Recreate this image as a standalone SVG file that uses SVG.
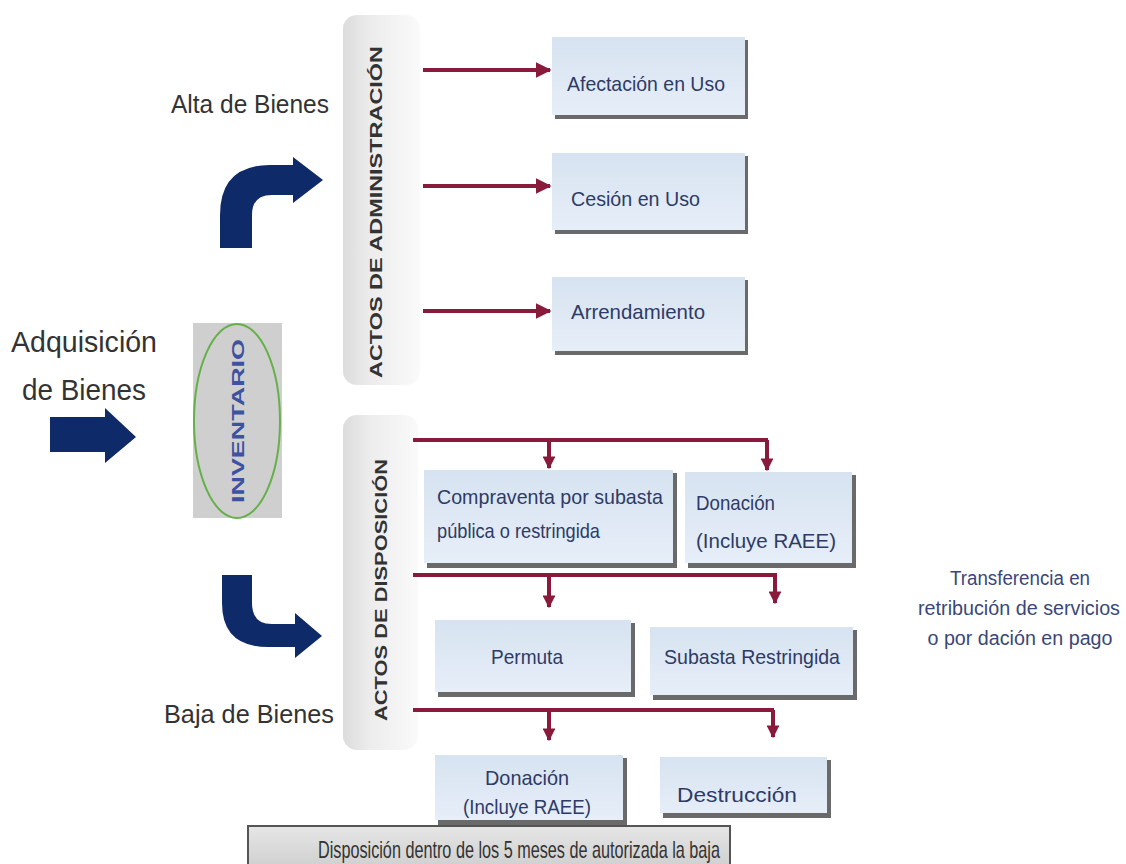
<svg xmlns="http://www.w3.org/2000/svg" width="1126" height="864" viewBox="0 0 1126 864">
<defs>
<linearGradient id="barG" x1="0" y1="0" x2="1" y2="0">
<stop offset="0" stop-color="#dcdcdc"/><stop offset="0.35" stop-color="#ececec"/><stop offset="1" stop-color="#fafafa"/>
</linearGradient>
<linearGradient id="boxG" x1="0" y1="0" x2="0" y2="1">
<stop offset="0" stop-color="#d7e3f1"/><stop offset="1" stop-color="#e6eef8"/>
</linearGradient>
<linearGradient id="botG" x1="0" y1="0" x2="0" y2="1">
<stop offset="0" stop-color="#e6e6e6"/><stop offset="1" stop-color="#cfcfcf"/>
</linearGradient>
<marker id="ah" viewBox="0 0 10 10" refX="9" refY="5" markerWidth="4" markerHeight="4" orient="auto" markerUnits="strokeWidth">
<path d="M0,0 L10,5 L0,10 Z" fill="#8a1a3c"/>
</marker>
<marker id="ahs" viewBox="0 0 10 10" refX="9" refY="5" markerWidth="3.2" markerHeight="3.2" orient="auto" markerUnits="strokeWidth">
<path d="M0,0 L10,5 L0,10 Z" fill="#8a1a3c"/>
</marker>
</defs>
<style>
.lbl{font-family:"Liberation Sans",Arial,sans-serif;fill:#333333}
.bx{font-family:"Liberation Sans",Arial,sans-serif;fill:#2e3b66;font-size:21px}
.tr{font-family:"Liberation Sans",Arial,sans-serif;fill:#3a4778;font-size:20px}
.shadow{fill:#6a6a6a}
.box{fill:url(#boxG)}
.bar{fill:url(#barG)}
.conn{stroke:#8a1a3c;stroke-width:4;fill:none}
.navy{fill:#0f2a68}
.vt{font-family:"Liberation Sans",Arial,sans-serif;fill:#333333;font-size:17px;font-weight:bold}
</style>

<g id="adquisicion">
<text class="lbl" x="84" y="352" font-size="30" text-anchor="middle" textLength="146" lengthAdjust="spacingAndGlyphs">Adquisición</text>
<text class="lbl" x="84" y="400" font-size="30" text-anchor="middle" textLength="124" lengthAdjust="spacingAndGlyphs">de Bienes</text>
<path class="navy" d="M50,417 L105,417 L105,408 L136,437 L105,463 L105,452 L50,452 Z"/>
</g>

<g id="inventario">
<rect x="193" y="323" width="89" height="195" fill="#cfcfcf"/>
<ellipse cx="237" cy="421" rx="43" ry="97" fill="none" stroke="#66b04a" stroke-width="2"/>
<text transform="translate(244,421) rotate(-90)" text-anchor="middle" font-family="Liberation Sans,Arial,sans-serif" font-size="17" font-weight="bold" fill="#3d52a0" textLength="164" lengthAdjust="spacingAndGlyphs">INVENTARIO</text>
</g>

<g id="alta">
<text class="lbl" x="250" y="113" font-size="25" text-anchor="middle" textLength="158" lengthAdjust="spacingAndGlyphs">Alta de Bienes</text>
<path class="navy" d="M220,248 L220,215 Q220,165 270,165 L293,165 L293,157 L323,180 L293,203 L293,195 L272,195 Q252,195 252,215 L252,248 Z"/>
</g>

<g id="baja">
<text class="lbl" x="249" y="723" font-size="25" text-anchor="middle" textLength="170" lengthAdjust="spacingAndGlyphs">Baja de Bienes</text>
<path class="navy" d="M222,575 L252,575 L252,603 Q252,624 272,624 L295,624 L295,613 L322,636 L295,658 L295,647 L268,647 Q222,647 222,603 Z"/>
</g>

<g id="actos-administracion">
<rect class="bar" x="343" y="15" width="77" height="370" rx="14"/>
<text class="vt" transform="translate(382,212) rotate(-90)" text-anchor="middle" textLength="332" lengthAdjust="spacingAndGlyphs">ACTOS DE ADMINISTRACIÓN</text>
</g>

<g id="actos-disposicion">
<rect class="bar" x="343" y="415" width="75" height="335" rx="14"/>
<text class="vt" transform="translate(387,590) rotate(-90)" text-anchor="middle" textLength="262" lengthAdjust="spacingAndGlyphs">ACTOS DE DISPOSICIÓN</text>
</g>

<g id="connectors">
<line class="conn" x1="423" y1="70" x2="550" y2="70" marker-end="url(#ah)"/>
<line class="conn" x1="423" y1="186" x2="550" y2="186" marker-end="url(#ah)"/>
<line class="conn" x1="423" y1="311" x2="550" y2="311" marker-end="url(#ah)"/>
<polyline class="conn" points="413,440 768,440"/>
<line class="conn" x1="549" y1="440" x2="549" y2="468" marker-end="url(#ahs)"/>
<line class="conn" x1="767" y1="440" x2="767" y2="470" marker-end="url(#ahs)"/>
<polyline class="conn" points="413,575 777,575"/>
<line class="conn" x1="549" y1="575" x2="549" y2="607" marker-end="url(#ahs)"/>
<line class="conn" x1="775" y1="575" x2="775" y2="603" marker-end="url(#ahs)"/>
<polyline class="conn" points="413,710 774,710"/>
<line class="conn" x1="549" y1="710" x2="549" y2="740" marker-end="url(#ahs)"/>
<line class="conn" x1="773" y1="710" x2="773" y2="737" marker-end="url(#ahs)"/>
</g>

<g id="afectacion">
<rect class="shadow" x="555" y="40" width="193" height="79"/>
<rect class="box" x="552" y="37" width="193" height="78"/>
<text class="bx" x="567" y="91" textLength="158" lengthAdjust="spacingAndGlyphs">Afectación en Uso</text>
</g>
<g id="cesion">
<rect class="shadow" x="555" y="156" width="193" height="78"/>
<rect class="box" x="552" y="153" width="193" height="77"/>
<text class="bx" x="571" y="206" textLength="129" lengthAdjust="spacingAndGlyphs">Cesión en  Uso</text>
</g>
<g id="arrendamiento">
<rect class="shadow" x="555" y="280" width="193" height="75"/>
<rect class="box" x="552" y="277" width="193" height="74"/>
<text class="bx" x="571" y="319" textLength="134" lengthAdjust="spacingAndGlyphs">Arrendamiento</text>
</g>

<g id="compraventa">
<rect class="shadow" x="427" y="473" width="250" height="95"/>
<rect class="box" x="424" y="470" width="249" height="93"/>
<text class="bx" x="437" y="504" textLength="226" lengthAdjust="spacingAndGlyphs">Compraventa por subasta</text>
<text class="bx" x="437" y="538" textLength="163" lengthAdjust="spacingAndGlyphs">pública o restringida</text>
</g>
<g id="donacion1">
<rect class="shadow" x="688" y="475" width="168" height="93"/>
<rect class="box" x="685" y="472" width="167" height="91"/>
<text class="bx" x="696" y="510" textLength="79" lengthAdjust="spacingAndGlyphs">Donación</text>
<text class="bx" x="696" y="548" textLength="140" lengthAdjust="spacingAndGlyphs">(Incluye RAEE)</text>
</g>
<g id="permuta">
<rect class="shadow" x="438" y="623" width="197" height="74"/>
<rect class="box" x="435" y="620" width="196" height="72"/>
<text class="bx" x="527" y="664" text-anchor="middle" textLength="72" lengthAdjust="spacingAndGlyphs">Permuta</text>
</g>
<g id="subasta-restringida">
<rect class="shadow" x="653" y="630" width="204" height="70"/>
<rect class="box" x="650" y="627" width="203" height="68"/>
<text class="bx" x="752" y="664" text-anchor="middle" textLength="176" lengthAdjust="spacingAndGlyphs">Subasta Restringida</text>
</g>
<g id="donacion2">
<rect class="shadow" x="438" y="758" width="189" height="67"/>
<rect class="box" x="435" y="755" width="188" height="65"/>
<text class="bx" x="527" y="785" text-anchor="middle" textLength="84" lengthAdjust="spacingAndGlyphs">Donación</text>
<text class="bx" x="527" y="814" text-anchor="middle" textLength="128" lengthAdjust="spacingAndGlyphs">(Incluye RAEE)</text>
</g>
<g id="destruccion">
<rect class="shadow" x="663" y="760" width="168" height="58"/>
<rect class="box" x="660" y="757" width="167" height="56"/>
<text class="bx" x="737" y="802" text-anchor="middle" textLength="120" lengthAdjust="spacingAndGlyphs">Destrucción</text>
</g>

<g id="disposicion-plazo">
<rect x="248" y="826" width="482" height="42" fill="url(#botG)" stroke="#555555" stroke-width="2"/>
<text class="lbl" x="318" y="858" font-size="24" fill="#222222" textLength="402" lengthAdjust="spacingAndGlyphs">Disposición dentro de los 5 meses de autorizada la baja</text>
</g>

<g id="transferencia">
<text class="tr" x="1020" y="585" text-anchor="middle" textLength="140" lengthAdjust="spacingAndGlyphs">Transferencia en</text>
<text class="tr" x="1019" y="615" text-anchor="middle" textLength="202" lengthAdjust="spacingAndGlyphs">retribución de servicios</text>
<text class="tr" x="1020" y="645" text-anchor="middle" textLength="185" lengthAdjust="spacingAndGlyphs">o por dación en pago</text>
</g>
</svg>
